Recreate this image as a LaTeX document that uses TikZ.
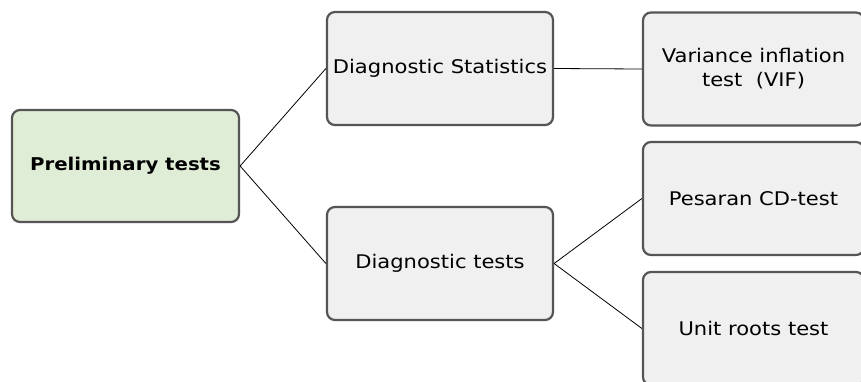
\documentclass[tikz,border=0pt]{standalone}
\usepackage{fontspec}
\setmainfont{DejaVu Sans}[FakeStretch=1.12]
\definecolor{boxline}{HTML}{555555}
\definecolor{boxfill}{HTML}{F0F0F0}
\definecolor{rootfill}{HTML}{E0EDD6}
\begin{document}
\begin{tikzpicture}[x=1bp,y=-1bp,
  box/.style={draw=boxline, fill=boxfill, line width=2.2bp, rounded corners=8bp,
    minimum width=226bp, minimum height=113bp, inner sep=2bp, align=center,
    font=\fontsize{18.8bp}{24bp}\selectfont},
  rootbox/.style={box, fill=rootfill, minimum width=227bp, minimum height=112bp,
    font=\fontsize{17.6bp}{24bp}\selectfont\bfseries},
  leafbox/.style={box, minimum width=221bp},
  link/.style={draw=black, line width=0.8bp}]
\clip (0,0) rectangle (861,381);
\fill[white] (0,0) rectangle (861,381);

\node[rootbox] (pre) at (125.5,166) {Preliminary tests};
\node[box] (ds) at (440,68.5) {Diagnostic Statistics};
\node[box] (dt) at (440,263.5) {Diagnostic tests};
\node[leafbox] (vif) at (753.5,69) {Variance inflation\\test~~(VIF)};
\node[leafbox] (pes) at (753.5,198.5) {Pesaran CD-test};
\node[leafbox] (ur) at (753.5,328.5) {Unit roots test};

\draw[link] (pre.east) -- (ds.west);
\draw[link] (pre.east) -- (dt.west);
\draw[link] (ds.east) -- (vif.west);
\draw[link] (dt.east) -- (pes.west);
\draw[link] (dt.east) -- (ur.west);
\end{tikzpicture}
\end{document}
